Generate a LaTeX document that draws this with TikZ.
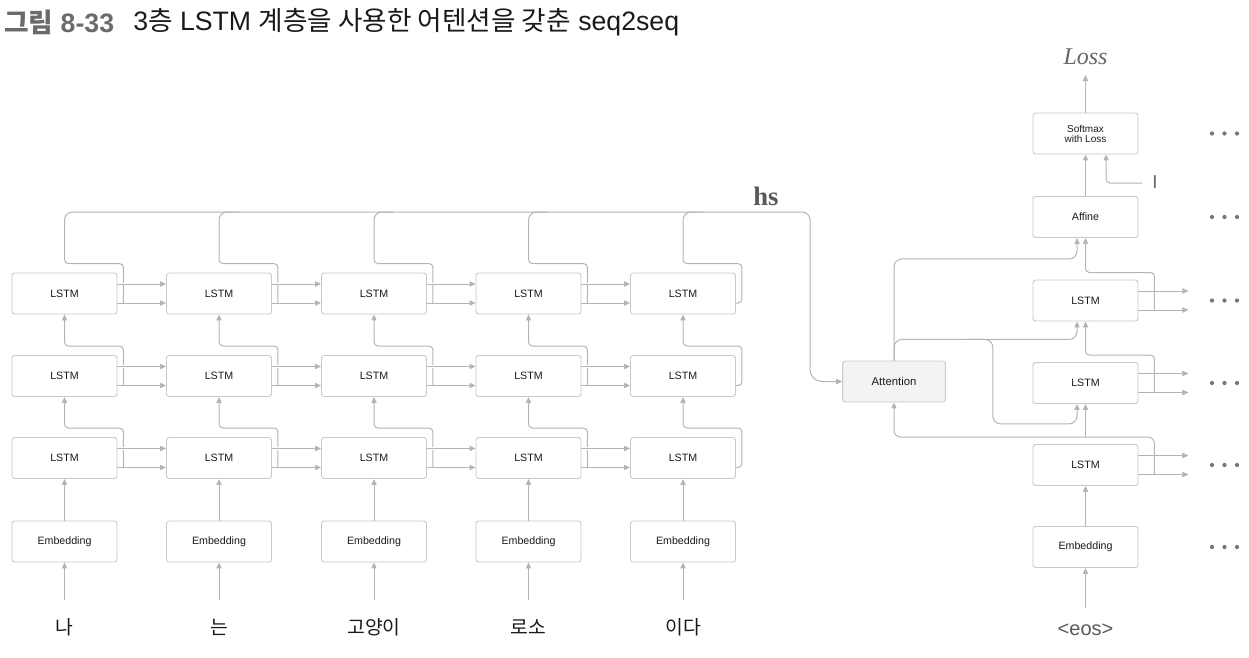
\documentclass[tikz,border=0pt]{standalone}
\usepackage{fontspec}
\setmainfont{Liberation Sans}
\newfontfamily\krfont{Noto Sans CJK KR}
\newfontfamily\seriffont{Liberation Serif}
\usetikzlibrary{arrows.meta,calc}

\definecolor{ln}{HTML}{B4B4B4}
\definecolor{bx}{HTML}{C9C9C9}
\definecolor{tx}{HTML}{1A1A1A}
\definecolor{attfill}{HTML}{F3F3F3}
\definecolor{dotc}{HTML}{777777}
\definecolor{ttlgray}{HTML}{6B6B6B}

\tikzset{
  blk/.style={draw=bx, line width=0.7pt, rounded corners=2pt, minimum width=78.75pt,
    minimum height=30.75pt, inner sep=0pt, font=\fontsize{8}{9}\selectfont, text=tx, fill=white},
  conn/.style={draw=ln, line width=0.75pt, rounded corners=3pt},
  arr/.style={conn, -{Triangle[length=4.5pt,width=4pt]}},
  gapline/.style={draw=white, line width=2pt},
  word/.style={font=\krfont\fontsize{14.5}{16}\selectfont, text=tx},
}

\begin{document}
\begin{tikzpicture}[x=0.75pt,y=-0.75pt]
\useasboundingbox (0,0) rectangle (1249,657);

% title
\node[anchor=west, inner sep=0pt, font=\bfseries\fontsize{20}{22}\selectfont, text=ttlgray] (t1) at (4,22) {{\krfont 그림} 8-33};
\node[anchor=west, inner sep=0pt, font=\fontsize{20}{22}\selectfont, text=tx] (t2) at (133,22) {3{\krfont 층} LSTM {\krfont 계층을 사용한 어텐션을 갖춘} seq2seq};

% encoder nodes
\foreach \c/\x/\w in {1/64.5/나,2/219/는,3/374/고양이,4/528.5/로소,5/683/이다} {
  \node[blk] (e\c1) at (\x,458) {LSTM};
  \node[blk] (e\c2) at (\x,376) {LSTM};
  \node[blk] (e\c3) at (\x,293.5) {LSTM};
  \node[blk] (m\c) at (\x,541.5) {Embedding};
  \node[word] (w\c) at (\x,627) {\w};
  \draw[arr] ($(w\c)+(0,-27)$) -- (m\c.south);
  \draw[arr] (m\c.north) -- (e\c1.south);
}

% decoder nodes
\node[blk, align=center, font=\fontsize{7.5}{7.5}\selectfont] (soft) at (1085.5,133.5) {Softmax\\with Loss};
\node[blk] (aff) at (1085.5,217) {Affine};
\node[blk] (d3) at (1085.5,300.5) {LSTM};
\node[blk] (d2) at (1085.5,383) {LSTM};
\node[blk] (d1) at (1085.5,465) {LSTM};
\node[blk] (demb) at (1085.5,547) {Embedding};
\node[blk, fill=attfill, minimum width=77pt, font=\fontsize{8.5}{9}\selectfont] (att) at (894,381.5) {Attention};
\node[font=\seriffont\itshape\fontsize{18}{20}\selectfont, text=black!60] (loss) at (1085.5,57) {Loss};
\node[font=\seriffont\bfseries\fontsize{20}{22}\selectfont, text=black!65] (hs) at (766,196) {hs};
\node[font=\fontsize{15}{16}\selectfont, text=black!65] (eos) at (1085.5,630) {<eos>};
\node[font=\fontsize{14}{16}\selectfont, text=black!60] (tI) at (1155,182) {I};
\coordinate (Iin) at (1142,183);

% encoder vertical connectors (rows)
\foreach \c in {1,2,3,4} {
  \foreach \r/\n in {1/2,2/3} {
    \draw[arr] ($(e\c\r.east)+(6,9.5)$) |- ($(e\c\r.north)+(0,-9)$) -- (e\c\n.south);
  }
}
\foreach \r/\n in {1/2,2/3} {
  \draw[arr] ($(e5\r.east)+(0,9.5)$) -- ++(6,0) |- ($(e5\r.north)+(0,-9)$) -- (e5\n.south);
}

% hs line
\coordinate (hsturn) at (810,212);
\draw[arr] ($(e13.east)+(6,9.5)$) |- ($(e13.north)+(0,-9)$) [rounded corners=6pt] |- (hsturn) [rounded corners=9pt] |- (att.west);
\foreach \c in {2,3,4} {
  \draw[conn] ($(e\c3.east)+(6,9.5)$) |- ($(e\c3.north)+(0,-9)$) [rounded corners=6pt] |- ($(e\c3.north |- hsturn)+(20,0)$);
}
\draw[conn] ($(e53.east)+(0,9.5)$) -- ++(6,0) |- ($(e53.north)+(0,-9)$) [rounded corners=6pt] |- ($(e53.north |- hsturn)+(20,0)$);

% encoder horizontal arrows
\foreach \c/\n in {1/2,2/3,3/4,4/5} {
  \foreach \r in {1,2,3} {
    \draw[gapline] ($(e\c\r.east)+(4,-9.5)$) -- ++(4,0);
    \draw[arr] ($(e\c\r.east)+(0,-9.5)$) -- ($(e\n\r.west)+(0,-9.5)$);
    \draw[arr] ($(e\c\r.east)+(0,9.5)$) -- ($(e\n\r.west)+(0,9.5)$);
  }
}

% decoder outputs
\foreach \d in {d1,d2,d3} {
  \draw[arr] ($(\d.east)+(0,-9.5)$) -- ++(50,0);
  \draw[arr] ($(\d.east)+(0,9.5)$) -- ++(50,0);
}
\coordinate (k1) at ($(d1.north)+(0,-7)$);
\coordinate (k2) at ($(d2.north)+(0,-7)$);
\coordinate (k3) at ($(d3.north)+(0,-7)$);
\draw[arr, rounded corners=5pt] ($(d1.east)+(16,9.5)$) |- (k1 -| att.south) -- (att.south);
\draw[arr] (k1) -- (d2.south);
\draw[arr] ($(d2.east)+(16,9.5)$) |- (k2) -- (d3.south);
\draw[arr] ($(d3.east)+(16,9.5)$) |- (k3) -- (aff.south);

% attention outputs
\coordinate (a3) at ($(aff.south)+(-8.5,21)$);
\coordinate (a2) at ($(d3.south)+(-8.5,18)$);
\coordinate (b1) at ($(a2 -| att.east)+(47,0)$);
\coordinate (b2) at ($(d2.south)+(-8.5,20)$);
\draw[arr, rounded corners=6pt] (att.north) |- (a3) -- ($(aff.south)+(-8.5,0)$);
\draw[arr, rounded corners=6pt] (att.north) |- (a2) -- ($(d3.south)+(-8.5,0)$);
\draw[arr, rounded corners=6pt] ($(b1)+(-25,0)$) -- (b1) |- (b2) -- ($(d2.south)+(-8.5,0)$);

% decoder vertical
\draw[arr] (demb.north) -- (d1.south);
\draw[arr] ($(eos)+(0,-22)$) -- (demb.south);
\draw[arr] (aff.north) -- (soft.south);
\draw[arr] (soft.north) -- ($(loss)+(0,18)$);
\draw[arr] (Iin) -| ($(soft.south)+(20.5,0)$);

% dots
\foreach \n in {soft,aff,d3,d2,d1,demb} {
  \foreach \dx in {0,12.5,25} {
    \fill[dotc] ($(\n.center)+(126.5+\dx,0)$) circle (1.6pt);
  }
}
\end{tikzpicture}
\end{document}
